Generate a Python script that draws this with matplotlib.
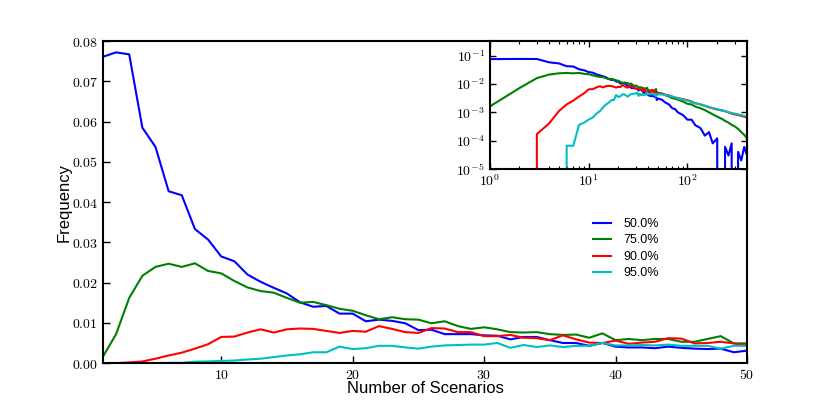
import numpy as np
import matplotlib
matplotlib.use('Agg')
import matplotlib.pyplot as plt
from matplotlib.ticker import FuncFormatter, LogLocator, NullFormatter

plt.rcParams['font.family'] = ['Liberation Sans', 'DejaVu Sans']
plt.rcParams['mathtext.fontset'] = 'cm'
plt.rcParams['xtick.direction'] = 'in'
plt.rcParams['ytick.direction'] = 'in'

# number of scenarios 1..50 (main panel)
scen = np.arange(1, 51)

f50 = [0.0761, 0.0772, 0.0767, 0.0585, 0.0537, 0.0427, 0.0417, 0.0333, 0.0307, 0.0265,
       0.0253, 0.0220, 0.0202, 0.0187, 0.0173, 0.0151, 0.0140, 0.0142, 0.0123, 0.0123,
       0.0104, 0.0108, 0.0105, 0.0099, 0.0082, 0.0083, 0.0072, 0.0072, 0.0072, 0.0069,
       0.0068, 0.0059, 0.0065, 0.0065, 0.0057, 0.0050, 0.0050, 0.0043, 0.0050, 0.0041,
       0.0039, 0.0039, 0.0037, 0.0041, 0.0038, 0.0036, 0.0035, 0.0036, 0.0027, 0.0031]
f75 = [0.0016, 0.0072, 0.0162, 0.0217, 0.0239, 0.0247, 0.0239, 0.0248, 0.0229, 0.0223,
       0.0204, 0.0188, 0.0179, 0.0175, 0.0162, 0.0150, 0.0152, 0.0144, 0.0135, 0.0130,
       0.0119, 0.0109, 0.0114, 0.0109, 0.0108, 0.0099, 0.0104, 0.0092, 0.0085, 0.0089,
       0.0084, 0.0077, 0.0076, 0.0077, 0.0072, 0.0070, 0.0071, 0.0063, 0.0074, 0.0057,
       0.0060, 0.0057, 0.0060, 0.0060, 0.0053, 0.0053, 0.0060, 0.0067, 0.0049, 0.0049]
f90 = [0.0, 0.0, 0.00017, 0.00041, 0.0011, 0.0019, 0.0026, 0.0036, 0.0047, 0.0065,
       0.0066, 0.0076, 0.0084, 0.0076, 0.0084, 0.0086, 0.0085, 0.0080, 0.0075, 0.0080,
       0.0078, 0.0092, 0.0085, 0.0077, 0.0075, 0.0087, 0.0086, 0.0077, 0.0077, 0.0067,
       0.0067, 0.0070, 0.0063, 0.0062, 0.0057, 0.0069, 0.0059, 0.0051, 0.0050, 0.0056,
       0.0048, 0.0051, 0.0053, 0.0062, 0.0061, 0.0049, 0.0050, 0.0053, 0.0049, 0.0044]
f95 = [0.0, 0.0, 0.0, 0.0, 0.0, 0.000066, 0.000066, 0.00036, 0.00043, 0.00055,
       0.00065, 0.0009, 0.0011, 0.0015, 0.0019, 0.0022, 0.0027, 0.0027, 0.0041, 0.0035,
       0.0037, 0.0043, 0.0043, 0.0039, 0.0036, 0.0041, 0.0044, 0.0045, 0.0046, 0.0046,
       0.0050, 0.0038, 0.0045, 0.0040, 0.0044, 0.0040, 0.0043, 0.0043, 0.0050, 0.0044,
       0.0044, 0.0045, 0.0044, 0.0046, 0.0043, 0.0043, 0.0043, 0.0036, 0.0043, 0.0043]

# tail beyond 50, only seen in the log-log inset
tail_x = [55, 60, 65, 70, 75, 80, 90, 100, 110, 120, 135, 150, 165, 180, 200,
          220, 240, 260, 280, 300, 325, 350, 375, 400]
t50 = [2.8e-3, 2.2e-3, 1.9e-3, 1.4e-3, 1.3e-3, 1.0e-3, 8e-4, 5.5e-4, 5.5e-4, 3.5e-4,
       2.8e-4, 1.5e-4, 2.0e-4, 8e-5, 1.2e-4, 0.0, 6e-5, 3e-5, 8e-5, 0.0,
       4e-5, 2e-5, 6e-5, 3e-5]
t75 = [4.6e-3, 4.0e-3, 3.6e-3, 3.2e-3, 3.0e-3, 2.8e-3, 2.4e-3, 2.0e-3, 1.9e-3, 1.6e-3,
       1.4e-3, 1.2e-3, 1.0e-3, 8.5e-4, 7e-4, 6e-4, 5e-4, 4.3e-4, 3.6e-4, 3.2e-4,
       2.6e-4, 2.0e-4, 1.6e-4, 1.2e-4]
t90 = [4.6e-3, 4.2e-3, 4.0e-3, 3.6e-3, 3.3e-3, 3.2e-3, 2.9e-3, 2.7e-3, 2.4e-3, 2.1e-3,
       1.9e-3, 1.7e-3, 1.5e-3, 1.4e-3, 1.25e-3, 1.2e-3, 1.1e-3, 1.0e-3, 9e-4, 8.5e-4,
       8e-4, 7.5e-4, 7e-4, 6.5e-4]
t95 = [4.3e-3, 4.1e-3, 3.8e-3, 3.6e-3, 3.4e-3, 3.1e-3, 2.8e-3, 2.6e-3, 2.3e-3, 2.1e-3,
       1.9e-3, 1.7e-3, 1.55e-3, 1.4e-3, 1.3e-3, 1.15e-3, 1.1e-3, 1.0e-3, 9.5e-4, 9e-4,
       8.5e-4, 8e-4, 7.5e-4, 7e-4]

labels = ['50.0%', '75.0%', '90.0%', '95.0%']
colors = ['b', 'g', 'r', 'c']
main_series = [f50, f75, f90, f95]
tail_series = [t50, t75, t90, t95]

fig = plt.figure(figsize=(8.3, 4.15), dpi=100)
ax = fig.add_axes([0.124, 0.125, 0.776, 0.776])

for ys, c, lab in zip(main_series, colors, labels):
    ax.plot(scen, ys, color=c, lw=1.5, label=lab)

ax.set_xlim(1, 50)
ax.set_ylim(0, 0.08)
ax.set_xticks([10, 20, 30, 40, 50])
ax.set_yticks(np.arange(0, 0.081, 0.01))
ax.xaxis.set_major_formatter(FuncFormatter(lambda v, p: r'$%d$' % v))
ax.yaxis.set_major_formatter(FuncFormatter(lambda v, p: r'$%.2f$' % v))
ax.tick_params(labelsize=10, length=5, width=1, top=False, right=False)
for sp in ax.spines.values():
    sp.set_linewidth(1.5)
ax.set_xlabel('Number of Scenarios', fontsize=12, labelpad=-1)
ax.set_ylabel('Frequency', fontsize=12, labelpad=0)

leg = ax.legend(loc='upper left', bbox_to_anchor=(0.761, 0.451), frameon=False,
                fontsize=9, handlelength=1.45, handletextpad=0.95,
                labelspacing=0.36, borderpad=0, borderaxespad=0)

# inset: log-log view of the full distributions
ins = fig.add_axes([0.590, 0.593, 0.310, 0.308])
for ys, ts, c in zip(main_series, tail_series, colors):
    xx = np.concatenate([scen, tail_x])
    yy = np.concatenate([ys, ts])
    ins.plot(xx, yy, color=c, lw=1.5)
ins.set_xscale('log')
ins.set_yscale('log', nonpositive='clip')
ins.set_xlim(1, 400)
ins.set_ylim(1e-5, 0.33)
ins.xaxis.set_major_locator(LogLocator(base=10, numticks=10))
ins.yaxis.set_major_locator(LogLocator(base=10, numticks=10))
ins.xaxis.set_major_formatter(FuncFormatter(lambda v, p: r'$10^{%d}$' % round(np.log10(v))))
ins.yaxis.set_major_formatter(FuncFormatter(lambda v, p: r'$10^{%d}$' % round(np.log10(v))))
ins.xaxis.set_minor_formatter(NullFormatter())
ins.yaxis.set_minor_formatter(NullFormatter())
ins.tick_params(which='both', top=True, right=True)
ins.tick_params(which='major', labelsize=10, length=4, width=1)
ins.tick_params(which='minor', length=2, width=0.8)
for sp in ins.spines.values():
    sp.set_linewidth(1.5)

plt.savefig('out.png', dpi=100)
